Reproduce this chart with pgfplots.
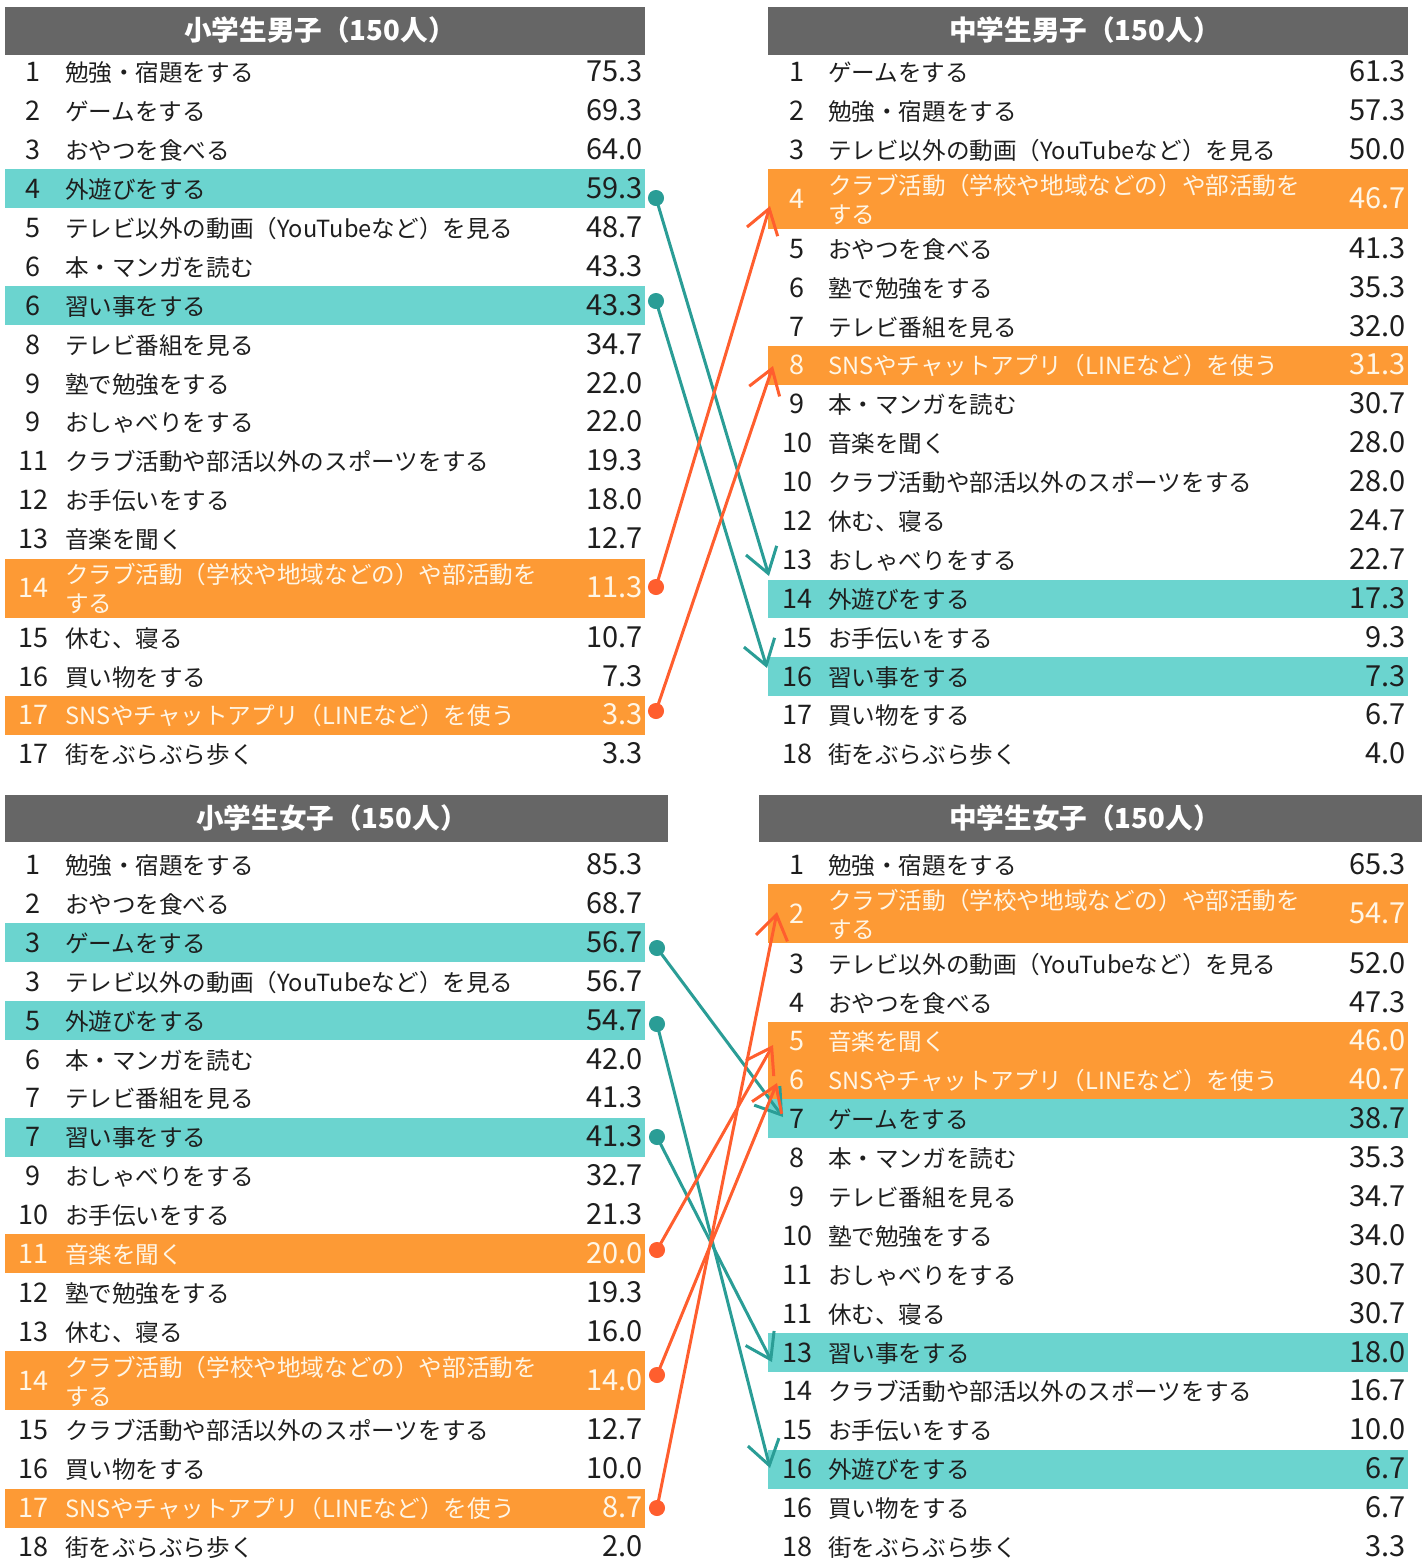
\documentclass[border=0pt]{standalone}
\usepackage{fontspec}
\setmainfont{Noto Sans CJK JP}
\usepackage{pgfplots}
\pgfplotsset{compat=1.18}
\usetikzlibrary{arrows.meta}
\definecolor{hdr}{HTML}{666666}
\definecolor{tealfill}{HTML}{6BD4CF}
\definecolor{orangefill}{HTML}{FD9A35}
\definecolor{tealline}{HTML}{2A9D96}
\definecolor{orangeline}{HTML}{FF5E2E}
\definecolor{cream}{HTML}{FFF6E6}
\definecolor{dark}{HTML}{1E1E1E}

\tikzset{
  base/.style={inner sep=0pt, outer sep=0pt, text height=0.88em, text depth=0.12em, yshift=-1pt},
  rk/.style={base, anchor=center, font=\fontsize{13.5}{14}\selectfont},
  lb/.style={base, anchor=west, font=\fontsize{11.8}{14}\selectfont},
  vl/.style={base, anchor=east, font=\fontsize{14.5}{16}\selectfont},
  hd/.style={base, anchor=center, text=white, font=\fontsize{13.8}{15}\selectfont\bfseries},
}
% rows: y, rank, label, value, text colour
\newcommand\EL[5]{%
  \node[rk,text=#5] at (axis cs:33,#1) {#2};%
  \node[lb,text=#5] at (axis cs:65,#1) {#3};%
  \node[vl,text=#5] at (axis cs:643,#1) {#4};}
\newcommand\ER[5]{%
  \node[rk,text=#5] at (axis cs:797,#1) {#2};%
  \node[lb,text=#5] at (axis cs:828,#1) {#3};%
  \node[vl,text=#5] at (axis cs:1406,#1) {#4};}
% two-line label: y, rank, value, text colour, x of rank, x of label, x of value
\newcommand\ETWO[7]{%
  \node[rk,text=#4] at (axis cs:#5,#1) {#2};%
  \node[lb,text=#4] at (axis cs:#6,#1-14) {クラブ活動（学校や地域などの）や部活動を};%
  \node[lb,text=#4] at (axis cs:#6,#1+15) {する};%
  \node[vl,text=#4] at (axis cs:#7,#1) {#3};}
% filled box: colour, x0, x1, y0, y1
\newcommand\BOX[5]{\addplot[fill=#1, draw=none, forget plot] coordinates {(#2,#4) (#3,#4) (#3,#5) (#2,#5)} -- cycle;}
% arrow: colour, x0, y0, x1, y1
\newcommand\ARR[5]{%
  \addplot[#1, line width=1.5pt, -{Straight Barb[length=12pt, width=16pt, line width=1.5pt]}, forget plot] coordinates {(#2,#3) (#4,#5)};%
  \addplot[#1, only marks, mark=*, mark size=3.8pt, forget plot] coordinates {(#2,#3)};}

\begin{document}
\begin{tikzpicture}
\begin{axis}[
  width=713.5pt, height=780pt, scale only axis,
  xmin=0, xmax=1427, ymin=0, ymax=1560, y dir=reverse,
  hide axis, clip=false,
]
% headers
\BOX{hdr}{5}{645}{7}{55}
\BOX{hdr}{768}{1408}{7}{55}
\BOX{hdr}{5}{668}{795}{842}
\BOX{hdr}{759}{1422}{795}{842}
% highlight rows
\BOX{tealfill}{5}{645}{169}{208}
\BOX{tealfill}{5}{645}{286}{325}
\BOX{orangefill}{5}{645}{559}{618}
\BOX{orangefill}{5}{645}{696}{735}
\BOX{orangefill}{768}{1408}{169}{229}
\BOX{orangefill}{768}{1408}{346}{385}
\BOX{tealfill}{768}{1408}{580}{618}
\BOX{tealfill}{768}{1408}{657}{696}
\BOX{tealfill}{5}{645}{923}{962}
\BOX{tealfill}{5}{645}{1001}{1040}
\BOX{tealfill}{5}{645}{1118}{1157}
\BOX{orangefill}{5}{645}{1234}{1273}
\BOX{orangefill}{5}{645}{1351}{1410}
\BOX{orangefill}{5}{645}{1489}{1528}
\BOX{orangefill}{768}{1408}{884}{943}
\BOX{orangefill}{768}{1408}{1022}{1099}
\BOX{tealfill}{768}{1408}{1099}{1138}
\BOX{tealfill}{768}{1408}{1333}{1372}
\BOX{tealfill}{768}{1408}{1450}{1489}

\node[hd] at (axis cs:320,31) {小学生男子（150人）};
\node[hd] at (axis cs:1085,31) {中学生男子（150人）};
\node[hd] at (axis cs:332,819) {小学生女子（150人）};
\node[hd] at (axis cs:1085,819) {中学生女子（150人）};

% 小学生男子
\EL{72}{1}{勉強・宿題をする}{75.3}{dark}
\EL{111}{2}{ゲームをする}{69.3}{dark}
\EL{150}{3}{おやつを食べる}{64.0}{dark}
\EL{189}{4}{外遊びをする}{59.3}{dark}
\EL{228}{5}{テレビ以外の動画（YouTubeなど）を見る}{48.7}{dark}
\EL{267}{6}{本・マンガを読む}{43.3}{dark}
\EL{306}{6}{習い事をする}{43.3}{dark}
\EL{345}{8}{テレビ番組を見る}{34.7}{dark}
\EL{384}{9}{塾で勉強をする}{22.0}{dark}
\EL{422}{9}{おしゃべりをする}{22.0}{dark}
\EL{461}{11}{クラブ活動や部活以外のスポーツをする}{19.3}{dark}
\EL{500}{12}{お手伝いをする}{18.0}{dark}
\EL{539}{13}{音楽を聞く}{12.7}{dark}
\ETWO{588}{14}{11.3}{cream}{33}{65}{643}
\EL{638}{15}{休む、寝る}{10.7}{dark}
\EL{677}{16}{買い物をする}{7.3}{dark}
\EL{715}{17}{SNSやチャットアプリ（LINEなど）を使う}{3.3}{cream}
\EL{754}{17}{街をぶらぶら歩く}{3.3}{dark}

% 中学生男子
\ER{72}{1}{ゲームをする}{61.3}{dark}
\ER{111}{2}{勉強・宿題をする}{57.3}{dark}
\ER{150}{3}{テレビ以外の動画（YouTubeなど）を見る}{50.0}{dark}
\ETWO{199}{4}{46.7}{cream}{797}{828}{1406}
\ER{249}{5}{おやつを食べる}{41.3}{dark}
\ER{288}{6}{塾で勉強をする}{35.3}{dark}
\ER{327}{7}{テレビ番組を見る}{32.0}{dark}
\ER{365}{8}{SNSやチャットアプリ（LINEなど）を使う}{31.3}{cream}
\ER{404}{9}{本・マンガを読む}{30.7}{dark}
\ER{443}{10}{音楽を聞く}{28.0}{dark}
\ER{482}{10}{クラブ活動や部活以外のスポーツをする}{28.0}{dark}
\ER{521}{12}{休む、寝る}{24.7}{dark}
\ER{560}{13}{おしゃべりをする}{22.7}{dark}
\ER{599}{14}{外遊びをする}{17.3}{dark}
\ER{638}{15}{お手伝いをする}{9.3}{dark}
\ER{677}{16}{習い事をする}{7.3}{dark}
\ER{715}{17}{買い物をする}{6.7}{dark}
\ER{754}{18}{街をぶらぶら歩く}{4.0}{dark}

% 小学生女子
\EL{865}{1}{勉強・宿題をする}{85.3}{dark}
\EL{904}{2}{おやつを食べる}{68.7}{dark}
\EL{943}{3}{ゲームをする}{56.7}{dark}
\EL{982}{3}{テレビ以外の動画（YouTubeなど）を見る}{56.7}{dark}
\EL{1021}{5}{外遊びをする}{54.7}{dark}
\EL{1060}{6}{本・マンガを読む}{42.0}{dark}
\EL{1098}{7}{テレビ番組を見る}{41.3}{dark}
\EL{1137}{7}{習い事をする}{41.3}{dark}
\EL{1176}{9}{おしゃべりをする}{32.7}{dark}
\EL{1215}{10}{お手伝いをする}{21.3}{dark}
\EL{1254}{11}{音楽を聞く}{20.0}{cream}
\EL{1293}{12}{塾で勉強をする}{19.3}{dark}
\EL{1332}{13}{休む、寝る}{16.0}{dark}
\ETWO{1381}{14}{14.0}{cream}{33}{65}{643}
\EL{1430}{15}{クラブ活動や部活以外のスポーツをする}{12.7}{dark}
\EL{1469}{16}{買い物をする}{10.0}{dark}
\EL{1508}{17}{SNSやチャットアプリ（LINEなど）を使う}{8.7}{cream}
\EL{1547}{18}{街をぶらぶら歩く}{2.0}{dark}

% 中学生女子
\ER{865}{1}{勉強・宿題をする}{65.3}{dark}
\ETWO{914}{2}{54.7}{cream}{797}{828}{1406}
\ER{964}{3}{テレビ以外の動画（YouTubeなど）を見る}{52.0}{dark}
\ER{1003}{4}{おやつを食べる}{47.3}{dark}
\ER{1041}{5}{音楽を聞く}{46.0}{cream}
\ER{1080}{6}{SNSやチャットアプリ（LINEなど）を使う}{40.7}{cream}
\ER{1119}{7}{ゲームをする}{38.7}{dark}
\ER{1158}{8}{本・マンガを読む}{35.3}{dark}
\ER{1197}{9}{テレビ番組を見る}{34.7}{dark}
\ER{1236}{10}{塾で勉強をする}{34.0}{dark}
\ER{1275}{11}{おしゃべりをする}{30.7}{dark}
\ER{1314}{11}{休む、寝る}{30.7}{dark}
\ER{1353}{13}{習い事をする}{18.0}{dark}
\ER{1391}{14}{クラブ活動や部活以外のスポーツをする}{16.7}{dark}
\ER{1430}{15}{お手伝いをする}{10.0}{dark}
\ER{1469}{16}{外遊びをする}{6.7}{dark}
\ER{1508}{16}{買い物をする}{6.7}{dark}
\ER{1547}{18}{街をぶらぶら歩く}{3.3}{dark}

% arrows (boys)
\ARR{tealline}{656}{198}{769}{576}
\ARR{tealline}{656}{301}{767}{668}
\ARR{orangeline}{656}{587}{770}{206}
\ARR{orangeline}{656}{711}{773}{366}
% arrows (girls)
\ARR{tealline}{657}{948}{783}{1117}
\ARR{tealline}{657}{1024}{770}{1468}
\ARR{tealline}{657}{1137}{772}{1362}
\ARR{orangeline}{657}{1250}{773}{1045}
\ARR{orangeline}{657}{1375}{777}{1083}
\ARR{orangeline}{657}{1508}{777}{912}
\end{axis}
\pgfresetboundingbox
\path[use as bounding box] (current axis.south west) rectangle (current axis.north east);
\end{tikzpicture}
\end{document}
